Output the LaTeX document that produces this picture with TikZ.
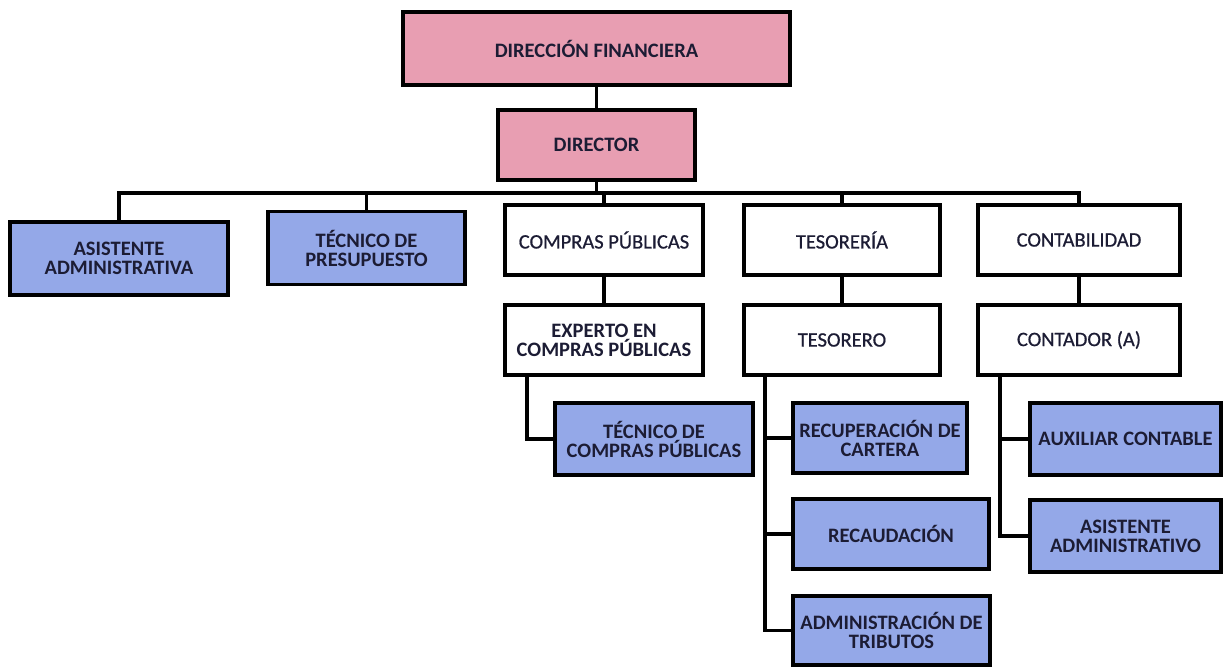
\documentclass[tikz,border=0pt]{standalone}
\usepackage{fontspec}
\setmainfont{Carlito}
\newfontface\medfont[FakeBold=0.7]{Carlito}
\definecolor{rosefill}{RGB}{232,158,178}
\definecolor{bluefill}{RGB}{148,168,232}
\definecolor{inktext}{RGB}{28,28,52}
\newcommand{\boxfont}{\fontsize{20.5}{19}\selectfont}
\begin{document}
\begin{tikzpicture}[x=1pt,y=-1pt,
  box/.style={draw=black,line width=3.6pt,rectangle,align=center,inner sep=2pt,
              text=inktext,font=\boxfont},
  rosebox/.style={box,fill=rosefill,font=\boxfont\bfseries},
  bluebox/.style={box,fill=bluefill,font=\boxfont\bfseries},
  plainbox/.style={box,fill=white,font=\boxfont\medfont},
  link/.style={draw=black,line width=3.6pt}]
\useasboundingbox (0,0) rectangle (1224,668);
\fill[white] (0,0) rectangle (1224,668);

% top of the hierarchy
\node[rosebox,minimum width=387pt,minimum height=73pt] (df) at (596.5,48.5) {DIRECCIÓN FINANCIERA};
\node[rosebox,minimum width=197pt,minimum height=70pt] (dir) at (596.5,145) {DIRECTOR};

% first level
\node[bluebox,minimum width=218pt,minimum height=73pt] (asa) at (119,258.5) {ASISTENTE\\ADMINISTRATIVA};
\node[bluebox,minimum width=197pt,minimum height=73pt] (tpp) at (366.5,248) {TÉCNICO DE\\PRESUPUESTO};
\node[plainbox,minimum width=198pt,minimum height=70pt] (cp) at (604,240) {COMPRAS PÚBLICAS};
\node[plainbox,minimum width=196pt,minimum height=70pt] (tes) at (842,240) {TESORERÍA};
\node[plainbox,minimum width=202pt,minimum height=70pt] (con) at (1079,240) {CONTABILIDAD};

% heads of each unit
\node[plainbox,minimum width=198pt,minimum height=70pt,font=\boxfont\bfseries] (exp) at (604,340) {EXPERTO EN\\COMPRAS PÚBLICAS};
\node[plainbox,minimum width=196pt,minimum height=70pt] (tso) at (842,340) {TESORERO};
\node[plainbox,minimum width=202pt,minimum height=70pt] (cnt) at (1079,340) {CONTADOR (A)};

% staff
\node[bluebox,minimum width=198pt,minimum height=72pt] (tcp) at (654,439) {TÉCNICO DE\\COMPRAS PÚBLICAS};
\node[bluebox,minimum width=174pt,minimum height=70pt] (rec) at (880,438) {RECUPERACIÓN DE\\CARTERA};
\node[bluebox,minimum width=196pt,minimum height=70pt] (rcd) at (891,534) {RECAUDACIÓN};
\node[bluebox,minimum width=197pt,minimum height=69pt] (adt) at (891.5,630.5) {ADMINISTRACIÓN DE\\TRIBUTOS};
\node[bluebox,minimum width=191pt,minimum height=72pt] (aux) at (1125.5,439) {AUXILIAR CONTABLE};
\node[bluebox,minimum width=191pt,minimum height=72pt] (asd) at (1125.5,536) {ASISTENTE\\ADMINISTRATIVO};

% connectors
\coordinate (bus) at (596.5,193);
\draw[link] (df) -- (dir);
\draw[link] (dir.south) -- (bus);
\draw[link] (asa.north) -- (asa.north |- bus) -- (con.north |- bus) -- (con.north);
\draw[link] (tpp.north) -- (tpp.north |- bus);
\draw[link] (cp.north) -- (cp.north |- bus);
\draw[link] (tes.north) -- (tes.north |- bus);
\draw[link] (cp) -- (exp);
\draw[link] (tes) -- (tso);
\draw[link] (con) -- (cnt);
\draw[link] ([xshift=-77pt]exp.south) |- (tcp.west);
\draw[link] ([xshift=-77pt]tso.south) |- (adt.west);
\draw[link] ([xshift=-77pt]tso.south |- rec.west) -- (rec.west);
\draw[link] ([xshift=-77pt]tso.south |- rcd.west) -- (rcd.west);
\draw[link] ([xshift=-79pt]cnt.south) |- (asd.west);
\draw[link] ([xshift=-79pt]cnt.south |- aux.west) -- (aux.west);
\end{tikzpicture}
\end{document}
